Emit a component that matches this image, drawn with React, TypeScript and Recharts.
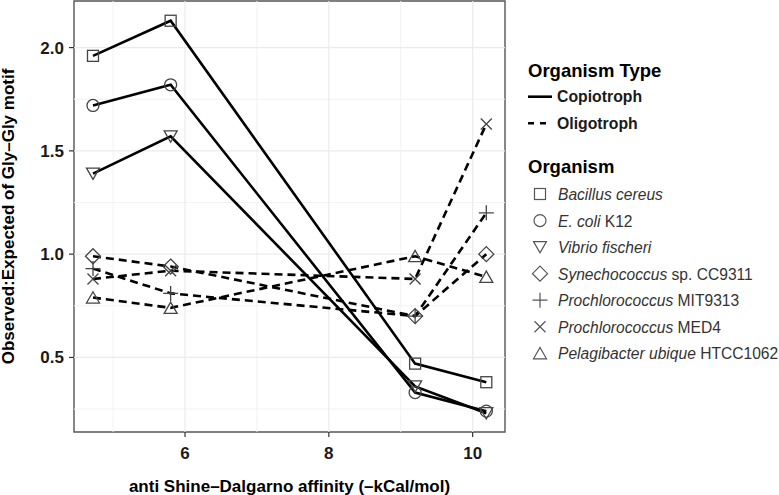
import React from "react";
import { LineChart, Line, XAxis, YAxis, ReferenceLine, ReferenceArea } from "recharts";

const FONT = "'Liberation Sans', Arial, Helvetica, sans-serif";

// anti-SD affinity bins (x)
const affinity = [4.72, 5.8, 9.2, 10.19];

// observed:expected Gly-Gly per organism
const bacillus = [1.96, 2.13, 0.47, 0.38];
const ecoli = [1.72, 1.82, 0.33, 0.24];
const vibrio = [1.39, 1.57, 0.36, 0.23];
const synechococcus = [0.99, 0.94, 0.7, 1.0];
const mit9313 = [0.93, 0.81, 0.7, 1.2];
const med4 = [0.88, 0.92, 0.88, 1.63];
const pelagibacter = [0.79, 0.74, 0.99, 0.89];

const genus = [
  "Bacillus cereus",
  "E. coli",
  "Vibrio fischeri",
  "Synechococcus",
  "Prochlorococcus",
  "Prochlorococcus",
  "Pelagibacter ubique",
];
const strain = ["", " K12", "", " sp. CC9311", " MIT9313", " MED4", " HTCC1062"];
const shapes = ["square", "circle", "triDown", "diamond", "plus", "cross", "triUp"];
const types = ["Copiotroph", "Copiotroph", "Copiotroph", "Oligotroph", "Oligotroph", "Oligotroph", "Oligotroph"];
const seriesValues = [bacillus, ecoli, vibrio, synechococcus, mit9313, med4, pelagibacter];

const typeNames = ["Copiotroph", "Oligotroph"];

const xTicks = [6, 8, 10];
const xMinor = [5, 7, 9];
const yTicks = [0.5, 1.0, 1.5, 2.0];
const yMinor = [0.25, 0.75, 1.25, 1.75];

const X_DOMAIN = [4.456, 10.45];
const Y_DOMAIN = [0.139, 2.2256];

const DASH = "8 5";

function Marker({ shape, cx, cy, color = "#444", sw = 1.3 }: any) {
  if (cx == null || cy == null) return null;
  const common = { fill: "none", stroke: color, strokeWidth: sw };
  switch (shape) {
    case "square":
      return <rect x={cx - 5.5} y={cy - 5.5} width={11} height={11} {...common} />;
    case "circle":
      return <circle cx={cx} cy={cy} r={6} {...common} />;
    case "triDown":
      return <polygon points={`${cx - 6.5},${cy - 5.5} ${cx + 6.5},${cy - 5.5} ${cx},${cy + 5.8}`} {...common} />;
    case "triUp":
      return <polygon points={`${cx - 6.5},${cy + 5.5} ${cx + 6.5},${cy + 5.5} ${cx},${cy - 5.8}`} {...common} />;
    case "diamond":
      return <polygon points={`${cx},${cy - 7.5} ${cx + 7.5},${cy} ${cx},${cy + 7.5} ${cx - 7.5},${cy}`} {...common} />;
    case "plus":
      return <path d={`M${cx - 7.5},${cy}H${cx + 7.5}M${cx},${cy - 7.5}V${cy + 7.5}`} {...common} />;
    case "cross":
      return <path d={`M${cx - 5.5},${cy - 5.5}L${cx + 5.5},${cy + 5.5}M${cx + 5.5},${cy - 5.5}L${cx - 5.5},${cy + 5.5}`} {...common} />;
    default:
      return null;
  }
}

function XTitle({ viewBox }: any) {
  const { x, y, width, height } = viewBox;
  return (
    <text x={x + width / 2} y={y + height - 3.5} textAnchor="middle" fontFamily={FONT} fontWeight="bold" fontSize={17} fill="#000">
      anti Shine–Dalgarno affinity (–kCal/mol)
    </text>
  );
}

function YTitle({ viewBox }: any) {
  const { x, y, height } = viewBox;
  const cx = x + 14;
  const cy = y + height / 2;
  return (
    <text x={cx} y={cy} transform={`rotate(-90, ${cx}, ${cy})`} textAnchor="middle" fontFamily={FONT} fontWeight="bold" fontSize={17} fill="#000">
      Observed:Expected of Gly–Gly motif
    </text>
  );
}

function LegendPanel() {
  const lx = 528;
  const itemY0 = 194;
  const itemStep = 26.55;
  return (
    <svg width={779} height={495} style={{ position: "absolute", left: 0, top: 0, pointerEvents: "none" }}>
      <text x={lx} y={70} dominantBaseline="central" fontFamily={FONT} fontWeight="bold" fontSize={18.5} fill="#000">
        Organism Type
      </text>
      {typeNames.map((t, i) => {
        const y = 96.7 + i * 26.6;
        return (
          <g key={t}>
            <line x1={lx} x2={lx + 24} y1={y} y2={y} stroke="#000" strokeWidth={2.6} strokeDasharray={i === 0 ? undefined : "6 6"} />
            <text x={557} y={y} dominantBaseline="central" fontFamily={FONT} fontWeight="bold" fontSize={15.8} fill="#1a1a1a">
              {t}
            </text>
          </g>
        );
      })}
      <text x={lx} y={166.7} dominantBaseline="central" fontFamily={FONT} fontWeight="bold" fontSize={18.5} fill="#000">
        Organism
      </text>
      {genus.map((g, i) => {
        const y = itemY0 + i * itemStep;
        return (
          <g key={i}>
            <Marker shape={shapes[i]} cx={540} cy={y} color="#555" sw={1.2} />
            <text x={558} y={y} dominantBaseline="central" fontFamily={FONT} fontSize={15.6} fill="#333">
              <tspan fontStyle="italic">{g}</tspan>
              {strain[i] ? <tspan>{strain[i]}</tspan> : null}
            </text>
          </g>
        );
      })}
    </svg>
  );
}

export default function App() {
  const tickStyle = { fontSize: 17, fontWeight: "bold", fill: "#1a1a1a", fontFamily: FONT };
  return (
    <div style={{ position: "absolute", left: 0, top: 0, width: 779, height: 495, background: "#fff" }}>
      <LineChart width={779} height={495} margin={{ top: 1, right: 274, bottom: 0, left: 0 }}>
        <XAxis
          type="number"
          dataKey="x"
          domain={X_DOMAIN}
          ticks={xTicks}
          allowDataOverflow
          height={63}
          axisLine={false}
          tickLine={{ stroke: "#333", strokeWidth: 1.2 }}
          tickSize={5}
          tickMargin={10}
          tick={tickStyle}
          label={<XTitle />}
        />
        <YAxis
          type="number"
          dataKey="y"
          domain={Y_DOMAIN}
          ticks={yTicks}
          allowDataOverflow
          width={74}
          axisLine={false}
          tickLine={{ stroke: "#333", strokeWidth: 1.2 }}
          tickSize={5}
          tickMargin={5}
          tick={tickStyle}
          tickFormatter={(v: number) => v.toFixed(1)}
          label={<YTitle />}
        />
        {xMinor.map((v) => (
          <ReferenceLine key={`xm${v}`} x={v} stroke="#f2f2f2" strokeWidth={1} />
        ))}
        {yMinor.map((v) => (
          <ReferenceLine key={`ym${v}`} y={v} stroke="#f2f2f2" strokeWidth={1} />
        ))}
        {xTicks.map((v) => (
          <ReferenceLine key={`xM${v}`} x={v} stroke="#ebebeb" strokeWidth={1.2} />
        ))}
        {yTicks.map((v) => (
          <ReferenceLine key={`yM${v}`} y={v} stroke="#ebebeb" strokeWidth={1.2} />
        ))}
        {seriesValues.map((vals, si) => (
          <Line
            key={genus[si] + strain[si]}
            data={affinity.map((x, i) => ({ x, y: vals[i] }))}
            dataKey="y"
            type="linear"
            stroke="#000"
            strokeWidth={2.6}
            strokeDasharray={types[si] === "Oligotroph" ? DASH : undefined}
            isAnimationActive={false}
            activeDot={false}
            legendType="none"
            dot={(p: any) => <Marker key={`${si}-${p.index}`} shape={shapes[si]} cx={p.cx} cy={p.cy} />}
          />
        ))}
        <ReferenceArea
          x1={X_DOMAIN[0]}
          x2={X_DOMAIN[1]}
          y1={Y_DOMAIN[0]}
          y2={Y_DOMAIN[1]}
          fill="none"
          stroke="#555"
          strokeWidth={1.4}
          ifOverflow="visible"
        />
      </LineChart>
      <LegendPanel />
    </div>
  );
}
